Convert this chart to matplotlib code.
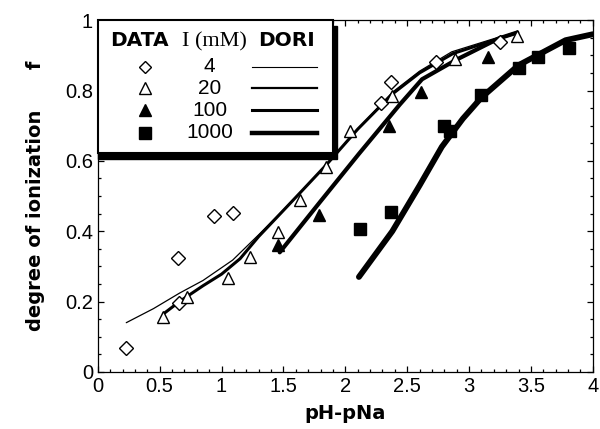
import matplotlib
matplotlib.use("Agg")
import matplotlib.pyplot as plt
from matplotlib.patches import Rectangle
from matplotlib.ticker import MultipleLocator, FuncFormatter

# measured points (DATA)
d4_x = [0.23, 0.645, 0.66, 0.94, 1.09, 2.29, 2.37, 2.73, 3.25]
d4_y = [0.068, 0.324, 0.196, 0.443, 0.452, 0.764, 0.824, 0.88, 0.937]
d20_x = [0.53, 0.72, 1.05, 1.23, 1.46, 1.63, 1.84, 2.04, 2.38, 2.89, 3.39]
d20_y = [0.157, 0.213, 0.267, 0.326, 0.398, 0.489, 0.583, 0.685, 0.784, 0.889, 0.955]
d100_x = [1.46, 1.79, 2.35, 2.61, 3.15]
d100_y = [0.36, 0.446, 0.699, 0.796, 0.895]
d1000_x = [2.12, 2.37, 2.80, 2.85, 3.10, 3.40, 3.56, 3.81]
d1000_y = [0.406, 0.454, 0.699, 0.685, 0.787, 0.864, 0.895, 0.920]

# model curves (DORI)
dori_x_4 = [0.23, 0.45, 0.66, 0.85, 1.09, 1.3, 1.47, 1.65, 1.85, 2.1, 2.38, 2.6, 2.86, 3.27]
dori_y_4 = [0.14, 0.18, 0.224, 0.26, 0.318, 0.39, 0.45, 0.515, 0.59, 0.69, 0.795, 0.855, 0.91, 0.955]
dori_x_20 = [0.53, 0.66, 0.85, 1.0, 1.15, 1.3, 1.47, 1.65, 1.85, 2.1, 2.38, 2.6, 2.87, 3.39]
dori_y_20 = [0.165, 0.20, 0.245, 0.278, 0.322, 0.385, 0.448, 0.515, 0.59, 0.69, 0.79, 0.85, 0.905, 0.965]
dori_x_100 = [1.47, 1.8, 2.11, 2.44, 2.62, 2.9, 3.24, 3.39]
dori_y_100 = [0.34, 0.485, 0.62, 0.76, 0.832, 0.888, 0.948, 0.965]
dori_x_1000 = [2.11, 2.38, 2.6, 2.78, 2.95, 3.10, 3.4, 3.78, 4.0]
dori_y_1000 = [0.27, 0.40, 0.53, 0.64, 0.72, 0.78, 0.872, 0.943, 0.96]

ionic = ["4", "20", "100", "1000"]

plt.rcParams['font.family'] = ['Liberation Sans', 'DejaVu Sans']

fig = plt.figure(figsize=(6, 4.29), dpi=100)
ax = fig.add_axes([0.163, 0.133, 0.825, 0.82])

# curves
ax.plot(dori_x_4, dori_y_4, color='black', lw=0.9, solid_capstyle='round')
ax.plot(dori_x_20, dori_y_20, color='black', lw=2.2, solid_capstyle='round')
ax.plot(dori_x_100, dori_y_100, color='black', lw=3.0, solid_capstyle='round')
ax.plot(dori_x_1000, dori_y_1000, color='black', lw=4.2, solid_capstyle='round')

# points
ax.plot(d4_x, d4_y, 'D', ms=7, mfc='white', mec='black', mew=1.0, ls='none')
ax.plot(d20_x, d20_y, '^', ms=8, mfc='white', mec='black', mew=1.0, ls='none')
ax.plot(d100_x, d100_y, '^', ms=8.5, mfc='black', mec='black', ls='none')
ax.plot(d1000_x, d1000_y, 's', ms=8, mfc='black', mec='black', ls='none')

ax.set_xlim(0, 4)
ax.set_ylim(0, 1)
ax.xaxis.set_major_locator(MultipleLocator(0.5))
ax.xaxis.set_minor_locator(MultipleLocator(0.1))
ax.yaxis.set_major_locator(MultipleLocator(0.2))
ax.yaxis.set_minor_locator(MultipleLocator(0.05))
fmt = FuncFormatter(lambda v, p: f'{v:g}')
ax.xaxis.set_major_formatter(fmt)
ax.yaxis.set_major_formatter(fmt)
ax.tick_params(which='both', direction='in', top=True, right=True, labelsize=14.5, width=0.9)
ax.tick_params(which='major', length=4)
ax.tick_params(which='minor', length=2.5)
for s in ax.spines.values():
    s.set_linewidth(0.9)

ax.set_xlabel('pH-pNa', fontsize=14, fontweight='bold', family='DejaVu Sans', labelpad=6)
ax.set_ylabel('degree of ionization      f', fontsize=14, fontweight='bold',
              family='DejaVu Sans', labelpad=14)

# legend box with drop shadow
bx1, by0 = 0.475, 0.622
ax.add_patch(Rectangle((0.0, by0 - 0.016), bx1 + 0.009, 1 - by0, transform=ax.transAxes,
                       facecolor='black', edgecolor='black', clip_on=False, zorder=5))
ax.add_patch(Rectangle((0, by0), bx1, 1 - by0, transform=ax.transAxes,
                       facecolor='white', edgecolor='black', lw=1.5, clip_on=False, zorder=6))

ax.text(0.085, 0.943, 'DATA', transform=ax.transAxes, ha='center', va='center',
        fontsize=14.5, fontweight='bold', family='DejaVu Sans', zorder=7)
ax.text(0.236, 0.938, 'I (mM)', transform=ax.transAxes, ha='center', va='center',
        fontsize=16, family='Liberation Serif', zorder=7)
ax.text(0.382, 0.943, 'DORI', transform=ax.transAxes, ha='center', va='center',
        fontsize=14.5, fontweight='bold', family='DejaVu Sans', zorder=7)

rows = [0.867, 0.806, 0.744, 0.68]
styles = [('D', 6.5, 'white'), ('^', 8, 'white'), ('^', 8.5, 'black'), ('s', 8, 'black')]
leg_lw = [0.8, 1.6, 2.2, 3.2]
for yy, lab, (m, ms, fc), lw in zip(rows, ionic, styles, leg_lw):
    ax.plot([0.095], [yy], m, ms=ms, mfc=fc, mec='black', mew=1.0,
            transform=ax.transAxes, clip_on=False, zorder=7, scalex=False, scaley=False)
    ax.text(0.226, yy, lab, transform=ax.transAxes, ha='center', va='center',
            fontsize=15, zorder=7)
    ax.plot([0.311, 0.442], [yy, yy], color='black', lw=lw,
            transform=ax.transAxes, clip_on=False, zorder=7, scalex=False, scaley=False)

fig.savefig('out.png', dpi=100)
